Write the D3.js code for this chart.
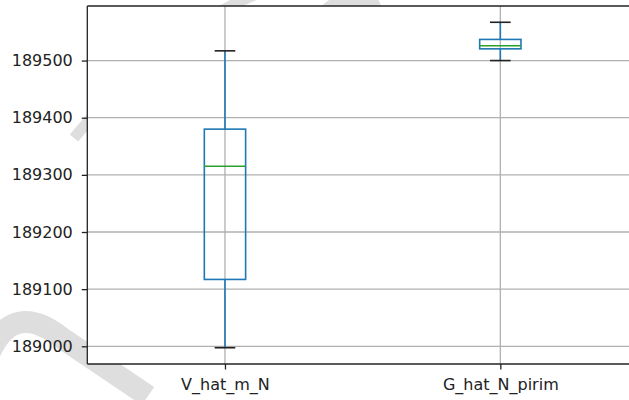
<!DOCTYPE html>
<html>
<head>
<meta charset="utf-8">
<script src="https://cdn.jsdelivr.net/npm/d3@7"></script>
<style>
  html, body { margin: 0; padding: 0; background: #fff; }
  svg { display: block; }
  text { font-family: "DejaVu Sans", sans-serif; }
</style>
</head>
<body>
<svg id="chart" width="629" height="400"></svg>
<script>
// ---- data ----
const categories   = ["V_hat_m_N", "G_hat_N_pirim"];
const whiskerLow   = [188997.5, 189500];
const q1Values     = [189117,   189520.5];
const medianValues = [189315,   189526];
const q3Values     = [189380,   189537];
const whiskerHigh  = [189517,   189567];
const yTickValues  = [189000, 189100, 189200, 189300, 189400, 189500];

// ---- layout ----
const W = 629, H = 400;
const axLeft = 87.3, axTop = 6, axBottom = 364, axRightFull = 638;
const svg = d3.select("#chart");

// y domain: matplotlib-like 5% margins on data range
const dmin = d3.min(whiskerLow), dmax = d3.max(whiskerHigh);
const pad = (dmax - dmin) * 0.05;
const y = d3.scaleLinear().domain([dmin - pad, dmax + pad]).range([axBottom, axTop]);
const x = d3.scaleLinear().domain([0.5, categories.length + 0.5]).range([axLeft, axRightFull]);
const boxW = x(1.15) - x(1);   // 0.15 data units
const capW = boxW / 2;

// ---- watermark stroke (behind the axes) ----
const wm = svg.append("g").attr("fill", "none").attr("stroke", "#dedede");
wm.append("path")
  .attr("d", "M -10,352 Q 14,300 62,338 L 148,396")
  .attr("stroke-width", 22);
wm.append("path")
  .attr("d", "M 74,138 Q 220,-40 400,-30")
  .attr("stroke-width", 11);
wm.append("path")
  .attr("d", "M 322,6 Q 330,-4 350,-6 L 372,-6 Q 378,-4 381,6 Z")
  .attr("fill", "#dedede").attr("stroke", "none");

// axes background
svg.append("rect").attr("x", axLeft).attr("y", axTop)
  .attr("width", axRightFull - axLeft).attr("height", axBottom - axTop).attr("fill", "#fff");

// ---- grid ----
const grid = svg.append("g").attr("stroke", "#b0b0b0").attr("stroke-width", 1.3);
grid.selectAll("line.h").data(yTickValues).join("line").attr("class", "h")
  .attr("x1", axLeft).attr("x2", axRightFull)
  .attr("y1", d => y(d)).attr("y2", d => y(d));
grid.selectAll("line.v").data(categories).join("line").attr("class", "v")
  .attr("y1", axTop).attr("y2", axBottom)
  .attr("x1", (d, i) => x(i + 1)).attr("x2", (d, i) => x(i + 1));

// ---- boxes ----
const boxes = svg.append("g").selectAll("g").data(categories).join("g");
const cx = (d, i) => x(i + 1);
boxes.append("line") // lower whisker
  .attr("x1", cx).attr("x2", cx)
  .attr("y1", (d, i) => y(whiskerLow[i])).attr("y2", (d, i) => y(q1Values[i]))
  .attr("stroke", "#1f77b4").attr("stroke-width", 1.6);
boxes.append("line") // upper whisker
  .attr("x1", cx).attr("x2", cx)
  .attr("y1", (d, i) => y(whiskerHigh[i])).attr("y2", (d, i) => y(q3Values[i]))
  .attr("stroke", "#1f77b4").attr("stroke-width", 1.6);
boxes.append("rect")
  .attr("x", (d, i) => x(i + 1) - boxW / 2)
  .attr("y", (d, i) => y(q3Values[i]))
  .attr("width", boxW)
  .attr("height", (d, i) => y(q1Values[i]) - y(q3Values[i]))
  .attr("fill", "none").attr("stroke", "#1f77b4").attr("stroke-width", 1.6);
boxes.append("line") // median
  .attr("x1", (d, i) => x(i + 1) - boxW / 2).attr("x2", (d, i) => x(i + 1) + boxW / 2)
  .attr("y1", (d, i) => y(medianValues[i])).attr("y2", (d, i) => y(medianValues[i]))
  .attr("stroke", "#2ca02c").attr("stroke-width", 1.6);
[whiskerLow, whiskerHigh].forEach(arr => {
  boxes.append("line")
    .attr("x1", (d, i) => x(i + 1) - capW / 2).attr("x2", (d, i) => x(i + 1) + capW / 2)
    .attr("y1", (d, i) => y(arr[i])).attr("y2", (d, i) => y(arr[i]))
    .attr("stroke", "#222").attr("stroke-width", 1.6);
});

// ---- axes ----
const yAxis = d3.axisLeft(y).tickValues(yTickValues).tickSize(5.5).tickPadding(9)
  .tickFormat(d3.format("d"));
const gy = svg.append("g").attr("transform", `translate(${axLeft},0)`).call(yAxis);
gy.select(".domain").remove();
gy.selectAll(".tick line").attr("stroke", "#222").attr("stroke-width", 1.3);
gy.selectAll(".tick text").attr("font-size", 16).attr("fill", "#222")
  .attr("font-family", "DejaVu Sans");

const xAxis = d3.axisBottom(x).tickValues(categories.map((d, i) => i + 1))
  .tickFormat((d, i) => categories[i]).tickSize(5.5).tickPadding(9);
const gx = svg.append("g").attr("transform", `translate(0,${axBottom})`).call(xAxis);
gx.select(".domain").remove();
gx.selectAll(".tick line").attr("stroke", "#222").attr("stroke-width", 1.3);
gx.selectAll(".tick text").attr("font-size", 16).attr("fill", "#222")
  .attr("font-family", "DejaVu Sans");

// spines
const sp = svg.append("g").attr("stroke", "#222").attr("stroke-width", 1.3);
sp.append("line").attr("x1", axLeft).attr("x2", axLeft).attr("y1", axTop).attr("y2", axBottom);
sp.append("line").attr("x1", axLeft).attr("x2", axRightFull).attr("y1", axTop).attr("y2", axTop);
sp.append("line").attr("x1", axLeft).attr("x2", axRightFull).attr("y1", axBottom).attr("y2", axBottom);
</script>
</body>
</html>
